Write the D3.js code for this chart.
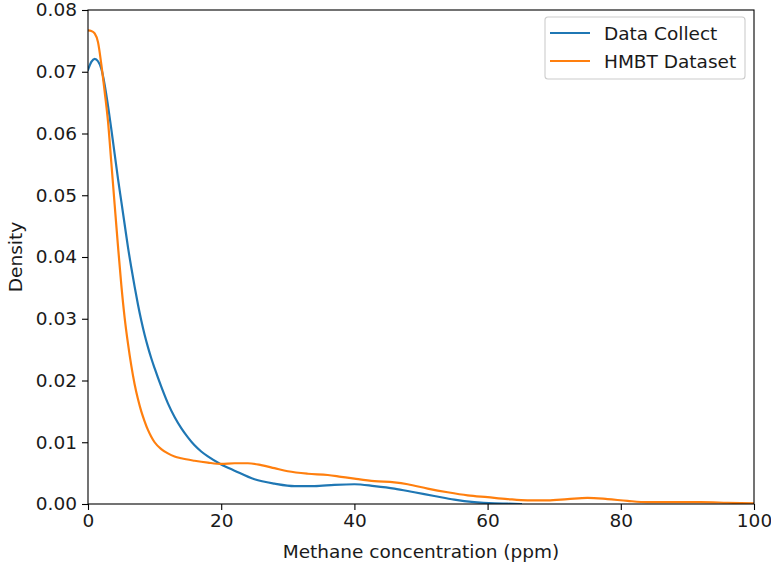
<!DOCTYPE html>
<html>
<head>
<meta charset="utf-8">
<script src="https://cdn.jsdelivr.net/npm/d3@7"></script>
<style>
  body { margin: 0; background: #fff; }
  text { font-family: "DejaVu Sans", sans-serif; fill: #1a1a1a; }
</style>
</head>
<body>
<svg id="chart" width="771" height="563"></svg>
<script>
// KDE curves: [concentration, density]
const dataCollect = [
  [0, 0.0703], [0.5, 0.0716], [1, 0.0721], [1.5, 0.0717], [2, 0.0705], [2.5, 0.0679],
  [3, 0.0645], [3.5, 0.0607], [4, 0.0567], [4.5, 0.0527], [5, 0.0490], [5.5, 0.0453],
  [6, 0.0416], [6.5, 0.0383], [7, 0.0352], [7.5, 0.0323], [8, 0.0297], [8.5, 0.0274],
  [9, 0.0254], [9.5, 0.0236], [10, 0.0220], [11, 0.0190], [12, 0.0163], [13, 0.0141],
  [14, 0.0123], [15, 0.0108], [16, 0.0095], [17, 0.0085], [18, 0.0077], [20, 0.0064],
  [22, 0.0054], [25, 0.0040], [28, 0.0033], [31, 0.0029], [34, 0.0029], [37, 0.0031],
  [40, 0.0032], [43, 0.0029], [46, 0.0025], [49, 0.0019], [52, 0.0013], [55, 0.0007],
  [58, 0.0003], [61, 0.0001], [63, 0.00005], [65, 0.0]
];

const hmbtDataset = [
  [0, 0.0767], [0.5, 0.0766], [1, 0.0762], [1.5, 0.0748], [2, 0.0712], [2.5, 0.0668],
  [3, 0.0620], [3.5, 0.0553], [4, 0.0485], [4.5, 0.0418], [5, 0.0355], [5.5, 0.0302],
  [6, 0.0260], [6.5, 0.0224], [7, 0.0194], [7.5, 0.0170], [8, 0.0150], [8.5, 0.0134],
  [9, 0.0120], [9.5, 0.0109], [10, 0.0100], [11, 0.0089], [12, 0.0082], [13, 0.0077],
  [14, 0.0074], [16, 0.0070], [18, 0.0067], [20, 0.0065], [22, 0.0066], [24, 0.0066],
  [26, 0.0063], [28, 0.0058], [30, 0.0053], [33, 0.0049], [36, 0.0047], [38, 0.0044],
  [40, 0.0041], [43, 0.0037], [46, 0.0035], [48, 0.0032], [51, 0.0025], [54, 0.0019],
  [57, 0.0014], [60, 0.0011], [63, 0.0008], [66, 0.0006], [69, 0.0006], [72, 0.0008],
  [75, 0.0010], [78, 0.0008], [81, 0.0005], [84, 0.0003], [88, 0.0003], [92, 0.0003],
  [96, 0.0002], [100, 0.0001]
];

const seriesNames = ['Data Collect', 'HMBT Dataset'];
const seriesColors = ['#1f77b4', '#ff7f0e'];
const xTicks = [0, 20, 40, 60, 80, 100];
const yTicks = [0, 0.01, 0.02, 0.03, 0.04, 0.05, 0.06, 0.07, 0.08];

const margin = { top: 10, right: 17, bottom: 59, left: 88 };
const width = 771 - margin.left - margin.right;
const height = 563 - margin.top - margin.bottom;
const fontSize = 18.5;

const svg = d3.select('#chart');
const g = svg.append('g').attr('transform', `translate(${margin.left},${margin.top})`);

const x = d3.scaleLinear().domain([0, 100]).range([0, width]);
const y = d3.scaleLinear().domain([0, 0.08]).range([height, 0]);

g.append('clipPath').attr('id', 'plot-clip')
  .append('rect').attr('width', width).attr('height', height);

// Axes
const xAxis = g.append('g')
  .attr('transform', `translate(0,${height})`)
  .call(d3.axisBottom(x).tickValues(xTicks).tickSize(6).tickPadding(4).tickFormat(d3.format('d')));

const yAxis = g.append('g')
  .call(d3.axisLeft(y).tickValues(yTicks).tickSize(6).tickPadding(5).tickFormat(d3.format('.2f')));

[xAxis, yAxis].forEach((ax) => {
  ax.select('.domain').remove();
  ax.selectAll('line').attr('stroke', '#000').attr('stroke-width', 1.1);
  ax.selectAll('text').attr('font-size', fontSize).attr('font-family', '"DejaVu Sans", sans-serif').attr('fill', '#1a1a1a');
});

// Lines
const line = d3.line()
  .x((d) => x(d[0]))
  .y((d) => y(d[1]))
  .curve(d3.curveMonotoneX);

const lines = g.append('g').attr('clip-path', 'url(#plot-clip)');
[dataCollect, hmbtDataset].forEach((series, i) => {
  lines.append('path')
    .datum(series)
    .attr('fill', 'none')
    .attr('stroke', seriesColors[i])
    .attr('stroke-width', 2.2)
    .attr('stroke-linecap', 'square')
    .attr('d', line);
});

// Frame
g.append('rect')
  .attr('width', width).attr('height', height)
  .attr('fill', 'none').attr('stroke', '#000').attr('stroke-width', 1.1);

// Axis labels
svg.append('text')
  .attr('x', margin.left + width / 2).attr('y', 558)
  .attr('text-anchor', 'middle').attr('font-size', fontSize)
  .text('Methane concentration (ppm)');

svg.append('text')
  .attr('transform', `translate(22,${margin.top + height / 2}) rotate(-90)`)
  .attr('text-anchor', 'middle').attr('font-size', fontSize)
  .text('Density');

// Legend
const legend = svg.append('g').attr('transform', 'translate(545,17)');
legend.append('rect')
  .attr('width', 200).attr('height', 62).attr('rx', 3)
  .attr('fill', '#fff').attr('fill-opacity', 0.8)
  .attr('stroke', '#cccccc').attr('stroke-width', 1.1);

seriesNames.forEach((name, i) => {
  const row = legend.append('g').attr('transform', `translate(0,${16 + i * 28})`);
  row.append('line')
    .attr('x1', 5).attr('x2', 45)
    .attr('stroke', seriesColors[i]).attr('stroke-width', 2.2);
  row.append('text')
    .attr('x', 59).attr('y', 6.5)
    .attr('font-size', fontSize)
    .text(name);
});
</script>
</body>
</html>
